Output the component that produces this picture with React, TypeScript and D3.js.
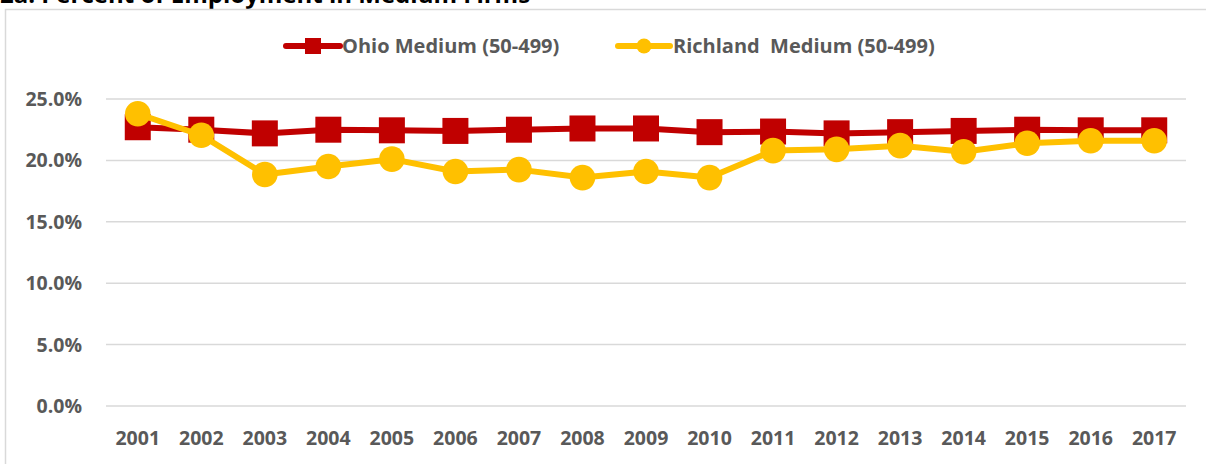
import * as d3 from 'd3';
import React from 'react';

const years = ['2001', '2002', '2003', '2004', '2005', '2006', '2007', '2008', '2009', '2010', '2011', '2012', '2013', '2014', '2015', '2016', '2017'];
const ohioMedium = [22.7, 22.5, 22.2, 22.5, 22.45, 22.4, 22.5, 22.6, 22.6, 22.3, 22.35, 22.2, 22.3, 22.4, 22.5, 22.45, 22.45];
const richlandMedium = [23.8, 22.05, 18.85, 19.5, 20.1, 19.1, 19.25, 18.6, 19.1, 18.6, 20.8, 20.9, 21.2, 20.7, 21.4, 21.6, 21.6];
const yTicks = [0, 5, 10, 15, 20, 25];
const seriesNames = ['Ohio Medium (50-499)', 'Richland  Medium (50-499)'];

const RED = '#C00000';
const GOLD = '#FFC000';
const TEXT = '#595959';
const FONT = '"Open Sans", "Liberation Sans", sans-serif';

export default function App() {
  const width = 1206;
  const height = 464;

  const x = d3.scalePoint<string>().domain(years).range([106, 1186]).padding(0.5);
  const y = d3.scaleLinear().domain([0, 25]).range([406, 99]);

  const line = d3
    .line<number>()
    .x((d, i) => x(years[i]) as number)
    .y(d => y(d));

  return (
    <svg
      width={width}
      height={height}
      style={{ position: 'absolute', left: 0, top: 0, background: '#fff' }}
      fontFamily={FONT}
    >
      {/* title, cut off at the top like the source */}
      <text x={0} y={3} fontSize={24} fontWeight="bold" fill="#000">
        2a. Percent of Employment in Medium Firms
      </text>
      <rect x={5.5} y={9.5} width={1220} height={480} fill="#fff" stroke="#d9d9d9" strokeWidth={1.5} />

      {/* gridlines + y labels */}
      {yTicks.map(t => (
        <g key={t}>
          <line x1={106} x2={1186} y1={y(t)} y2={y(t)} stroke="#d9d9d9" strokeWidth={1.5} />
          <text x={82} y={y(t)} dy="0.36em" textAnchor="end" fontSize={19.5} fontWeight="bold" fill={TEXT}>
            {t.toFixed(1) + '%'}
          </text>
        </g>
      ))}

      {/* x labels */}
      {years.map(yr => (
        <text key={yr} x={x(yr)} y={445} textAnchor="middle" fontSize={19.5} fontWeight="bold" fill={TEXT}>
          {yr}
        </text>
      ))}

      {/* Ohio */}
      <path d={line(ohioMedium) || ''} fill="none" stroke={RED} strokeWidth={6} strokeLinejoin="round" />
      {ohioMedium.map((v, i) => (
        <rect key={i} x={(x(years[i]) as number) - 13} y={y(v) - 13} width={26} height={26} fill={RED} />
      ))}

      {/* Richland */}
      <path d={line(richlandMedium) || ''} fill="none" stroke={GOLD} strokeWidth={6} strokeLinejoin="round" />
      {richlandMedium.map((v, i) => (
        <circle key={i} cx={x(years[i]) as number} cy={y(v)} r={12.8} fill={GOLD} />
      ))}

      {/* legend */}
      <g>
        <line x1={286} x2={340} y1={46} y2={46} stroke={RED} strokeWidth={6} strokeLinecap="round" />
        <rect x={305} y={38} width={16} height={16} fill={RED} />
        <text x={342} y={46} dy="0.36em" fontSize={20} fontWeight="bold" fill={TEXT}>
          {seriesNames[0]}
        </text>
        <line x1={618} x2={670} y1={46} y2={46} stroke={GOLD} strokeWidth={6} strokeLinecap="round" />
        <circle cx={644} cy={46} r={7.5} fill={GOLD} />
        <text x={673} y={46} dy="0.36em" fontSize={20} fontWeight="bold" fill={TEXT} style={{ whiteSpace: 'pre' }}>
          {seriesNames[1]}
        </text>
      </g>
    </svg>
  );
}
